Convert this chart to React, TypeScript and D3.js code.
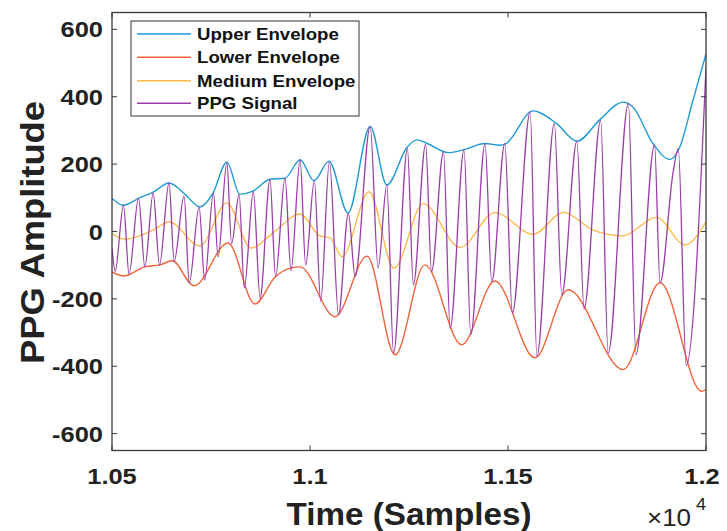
import React from "react";
import * as d3 from "d3";

// PPG signal: alternating extrema [sample, amplitude]
const ppgSignal: [number, number][] = [
  [10500, -49], [10508, -118], [10529, 78], [10543, -126], [10567, 99], [10583, -105],
  [10604, 114], [10620, -99], [10644, 144], [10657, -89], [10682, 105], [10695, -153],
  [10720, 73], [10734, -144], [10756, 114], [10768, -75], [10790, 204], [10802, -36],
  [10821, 110], [10834, -167], [10857, 118], [10874, -198], [10899, 155], [10913, -134],
  [10937, 158], [10952, -116], [10975, 213], [10989, -99], [11011, 151], [11027, -208],
  [11049, 208], [11072, -247], [11097, 54], [11114, -134], [11152, 312], [11172, -108],
  [11194, 139], [11211, -361], [11246, 246], [11261, -158], [11292, 259], [11307, -119],
  [11337, 236], [11354, -287], [11389, 243], [11406, -306], [11442, 261], [11459, -149],
  [11492, 261], [11511, -242], [11556, 355], [11573, -371], [11617, 321], [11636, -188],
  [11674, 268], [11692, -230], [11734, 330], [11753, -361], [11804, 380], [11823, -366],
  [11870, 256], [11884, -152], [11917, 176], [11930, 246], [11950, -398], [12000, 487],
];

const upperEnvelope: [number, number][] = [
  [10500, 99], [10528, 78], [10568, 99], [10604, 117], [10644, 144], [10684, 111],
  [10722, 73], [10755, 114], [10790, 206], [10823, 111], [10856, 120], [10899, 155],
  [10937, 158], [10975, 213], [11010, 151], [11048, 209], [11096, 55], [11152, 312],
  [11194, 138], [11245, 250], [11270, 272], [11295, 262], [11349, 234], [11389, 243],
  [11442, 261], [11480, 256], [11495, 261], [11563, 358], [11623, 320], [11674, 268],
  [11732, 332], [11791, 384], [11816, 369], [11866, 261], [11909, 214], [11934, 251],
  [11967, 389], [12000, 527],
];

const lowerEnvelope: [number, number][] = [
  [10500, -120], [10530, -132], [10583, -105], [10621, -99], [10652, -87], [10707, -161],
  [10793, -34], [10861, -215], [10912, -135], [10952, -108], [10975, -105], [11063, -253],
  [11144, -73], [11215, -366], [11290, -99], [11383, -336], [11467, -147], [11568, -375],
  [11652, -173], [11791, -410], [11884, -152], [11989, -474], [12000, -469],
];

const mediumEnvelope: [number, number][] = [
  [10500, -7], [10533, -23], [10604, 4], [10644, 29], [10722, -43], [10790, 85],
  [10851, -49], [10907, -4], [10975, 52], [11025, -13], [11051, -19], [11081, -75],
  [11149, 118], [11212, -109], [11286, 83], [11379, -47], [11467, 56], [11564, -8],
  [11640, 57], [11715, 4], [11790, -13], [11875, 42], [11947, -40], [12000, 29],
];

const xTicks = [10500, 11000, 11500, 12000];
const xTickLabels = ["1.05", "1.1", "1.15", "1.2"];
const yTicks = [-600, -400, -200, 0, 200, 400, 600];
const yTickLabels = ["-600", "-400", "-200", "0", "200", "400", "600"];
const seriesNames = ["Upper Envelope", "Lower Envelope", "Medium Envelope", "PPG Signal"];
const seriesColors = ["#1E9AD6", "#F0643C", "#FDB74A", "#9A3DA8"];

const FF = "'Liberation Sans', Arial, Helvetica, sans-serif";
const SX = 1.13;

export default function App() {
  const W = 727, H = 531;
  const L = 112, R = 706, T = 12.5, B = 450.5;
  const x = d3.scaleLinear().domain([10500, 12000]).range([L, R]);
  const y = d3.scaleLinear().domain([-650, 650]).range([B, T]);
  const line = d3
    .line<[number, number]>()
    .x((d) => x(d[0]))
    .y((d) => y(d[1]))
    .curve(d3.curveMonotoneX);

  const series = [upperEnvelope, lowerEnvelope, mediumEnvelope, ppgSignal];
  const widths = [1.4, 1.4, 1.3, 1.3];
  const axisColor = "#3a3a3a";
  const tl = 5;

  const legX = 131, legY = 21, legW = 228, legH = 95;
  const rowY = [34, 57.3, 80.7, 103.3];

  return (
    <svg
      width={W}
      height={H}
      style={{ position: "absolute", left: 0, top: 0, background: "#fff" }}
      fontFamily={FF}
    >
      <defs>
        <clipPath id="plotClip">
          <rect x={L} y={T} width={R - L} height={B - T} />
        </clipPath>
      </defs>
      <rect x={0} y={0} width={W} height={H} fill="#fff" />

      <g clipPath="url(#plotClip)">
        {series.map((s, i) => (
          <path key={i} d={line(s) || ""} fill="none" stroke={seriesColors[i]} strokeWidth={widths[i]} />
        ))}
      </g>

      {/* axes box */}
      <rect x={L} y={T} width={R - L} height={B - T} fill="none" stroke={axisColor} strokeWidth={1.3} />

      {/* ticks */}
      {xTicks.map((t, i) => (
        <g key={"xt" + i}>
          <line x1={x(t)} x2={x(t)} y1={B} y2={B - tl} stroke={axisColor} strokeWidth={1} />
          <line x1={x(t)} x2={x(t)} y1={T} y2={T + tl} stroke={axisColor} strokeWidth={1} />
          <text
            transform={`translate(${x(t) - (i === xTicks.length - 1 ? 4 : 0)},484) scale(${SX},1)`}
            textAnchor="middle"
            fontSize={22.5}
            fontWeight="bold"
            fill="#222"
          >
            {xTickLabels[i]}
          </text>
        </g>
      ))}
      {yTicks.map((t, i) => (
        <g key={"yt" + i}>
          <line x1={L} x2={L + tl} y1={y(t)} y2={y(t)} stroke={axisColor} strokeWidth={1} />
          <line x1={R} x2={R - tl} y1={y(t)} y2={y(t)} stroke={axisColor} strokeWidth={1} />
          <text
            transform={`translate(103,${y(t) + 8}) scale(${SX},1)`}
            textAnchor="end"
            fontSize={22.5}
            fontWeight="bold"
            fill="#222"
          >
            {yTickLabels[i]}
          </text>
        </g>
      ))}

      {/* axis labels */}
      <text
        x={(L + R) / 2}
        y={525}
        textAnchor="middle"
        fontSize={32}
        fontWeight="bold"
        fill="#222"
        textLength={245}
        lengthAdjust="spacingAndGlyphs"
      >
        Time (Samples)
      </text>
      <text
        transform={`translate(44,${(T + B) / 2 + 1}) rotate(-90)`}
        textAnchor="middle"
        fontSize={34}
        fontWeight="bold"
        fill="#222"
        textLength={263}
        lengthAdjust="spacingAndGlyphs"
      >
        PPG Amplitude
      </text>

      {/* exponent */}
      <text transform={`translate(647,526) scale(${SX},1)`} fontSize={23} fill="#222">
        ×10
      </text>
      <text transform={`translate(696,510) scale(${SX},1)`} fontSize={16} fill="#222">
        4
      </text>

      {/* legend */}
      <rect x={legX} y={legY} width={legW} height={legH} fill="#fff" stroke="#333" strokeWidth={1} />
      {seriesNames.map((n, i) => (
        <g key={"lg" + i}>
          <line x1={137} x2={191} y1={rowY[i]} y2={rowY[i]} stroke={seriesColors[i]} strokeWidth={1.4} />
          <text
            transform={`translate(197,${rowY[i] + 6}) scale(${SX},1)`}
            fontSize={16.5}
            fontWeight="bold"
            fill="#111"
          >
            {n}
          </text>
        </g>
      ))}
    </svg>
  );
}
